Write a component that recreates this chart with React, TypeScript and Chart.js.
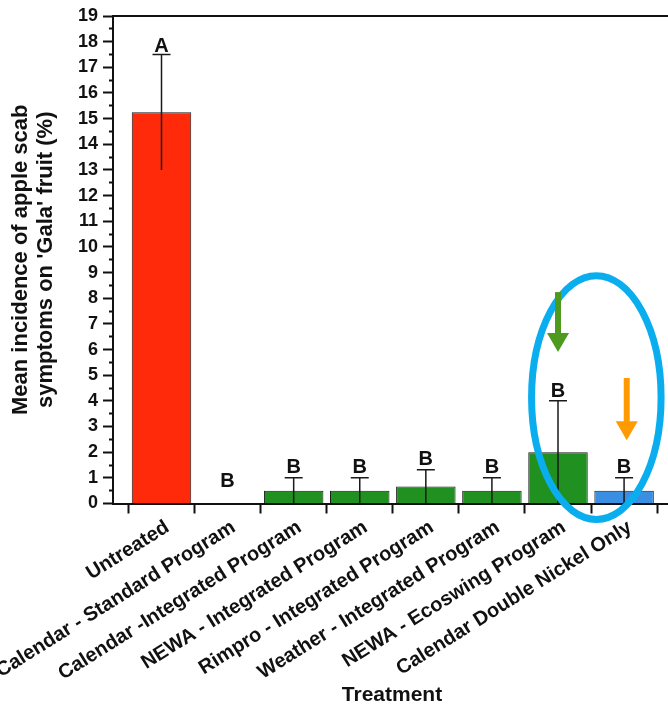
import React, { useEffect, useRef } from "react";
import { Chart, registerables } from "chart.js";

Chart.register(...registerables);

// ---------------- data ----------------
const categories = [
  "Untreated",
  "Calendar - Standard Program",
  "Calendar -Integrated Program",
  "NEWA - Integrated Program",
  "Rimpro - Integrated Program",
  "Weather - Integrated Program",
  "NEWA - Ecoswing Program",
  "Calendar Double Nickel Only",
];
const means = [15.25, 0, 0.5, 0.5, 0.66, 0.5, 2.0, 0.5];
const errors = [2.25, 0, 0.5, 0.5, 0.66, 0.5, 2.0, 0.5];
const letters = ["A", "B", "B", "B", "B", "B", "B", "B"];
const letterAt = [17.6, 0.66, 1.17, 1.17, 1.49, 1.17, 4.17, 1.17];
const barColors = [
  "#FF2A0A",
  "rgba(0,0,0,0)",
  "#209020",
  "#209020",
  "#209020",
  "#209020",
  "#209020",
  "#3B8FE3",
];
const yMajorTicks = [0, 1, 2, 3, 4, 5, 6, 7, 8, 9, 10, 11, 12, 13, 14, 15, 16, 17, 18, 19];
const yMinorTicks = [0.5, 1.5, 2.5, 3.5, 4.5, 5.5, 6.5, 7.5, 8.5, 9.5, 10.5, 11.5, 12.5, 13.5, 14.5, 15.5, 16.5, 17.5, 18.5];
const yTitle = ["Mean incidence of apple scab", "symptoms on 'Gala' fruit (%)"];
const xTitle = "Treatment";

// overlay annotations (in data units)
const ellipse = { x: 6.58, y: 4.13, rx: 0.98, ry: 4.75, color: "#0AAEEF" };
const arrows = [
  { x: 6.0, from: 8.24, to: 5.9, color: "#4E9A1E" },
  { x: 7.04, from: 4.89, to: 2.47, color: "#FF9A00" },
];

const X_MIN = -0.734;
const X_MAX = 7.71;
const FONT = "'Liberation Sans', Arial, Helvetica, sans-serif";
const INK = "#111111";

const overlayPlugin = {
  id: "overlay",
  afterDatasetsDraw(chart: any) {
    const ctx = chart.ctx;
    const xs = chart.scales.x;
    const ys = chart.scales.y;
    ctx.save();
    // error bars
    ctx.strokeStyle = "#1a1a1a";
    ctx.lineWidth = 1.5;
    means.forEach((m, i) => {
      const e = errors[i];
      if (!e) return;
      const x = xs.getPixelForValue(i);
      const yt = ys.getPixelForValue(m + e);
      const yb = ys.getPixelForValue(Math.max(0, m - e));
      ctx.beginPath();
      ctx.moveTo(x, yb);
      ctx.lineTo(x, yt);
      ctx.moveTo(x - 9, yt);
      ctx.lineTo(x + 9, yt);
      ctx.stroke();
    });
    // letters
    ctx.fillStyle = INK;
    ctx.font = `bold 20px ${FONT}`;
    ctx.textAlign = "center";
    ctx.textBaseline = "alphabetic";
    letters.forEach((l, i) => {
      ctx.fillText(l, xs.getPixelForValue(i), ys.getPixelForValue(letterAt[i]));
    });
    // ellipse
    const cx = xs.getPixelForValue(ellipse.x);
    const cy = ys.getPixelForValue(ellipse.y);
    const rx = Math.abs(xs.getPixelForValue(ellipse.x + ellipse.rx) - cx);
    const ry = Math.abs(ys.getPixelForValue(ellipse.y + ellipse.ry) - cy);
    ctx.strokeStyle = ellipse.color;
    ctx.lineWidth = 7;
    ctx.beginPath();
    ctx.ellipse(cx, cy, rx, ry, 0, 0, Math.PI * 2);
    ctx.stroke();
    // arrows
    arrows.forEach((a) => {
      const x = xs.getPixelForValue(a.x);
      const y0 = ys.getPixelForValue(a.from);
      const y1 = ys.getPixelForValue(a.to);
      const head = 19;
      ctx.strokeStyle = a.color;
      ctx.fillStyle = a.color;
      ctx.lineWidth = 6;
      ctx.beginPath();
      ctx.moveTo(x, y0);
      ctx.lineTo(x, y1 - head + 1);
      ctx.stroke();
      ctx.beginPath();
      ctx.moveTo(x - 11, y1 - head);
      ctx.lineTo(x + 11, y1 - head);
      ctx.lineTo(x, y1);
      ctx.closePath();
      ctx.fill();
    });
    ctx.restore();
  },
};

export default function App() {
  const ref = useRef<HTMLCanvasElement | null>(null);
  useEffect(() => {
    if (!ref.current) return;
    Chart.defaults.color = INK;
    const chart = new Chart(ref.current, {
      type: "bar",
      data: {
        datasets: [
          {
            data: means.map((v, i) => ({ x: i, y: v })),
            backgroundColor: barColors,
            borderColor: "#1a1a1a",
            borderWidth: 1,
            barPercentage: 0.9,
            categoryPercentage: 1,
          } as any,
        ],
      },
      options: {
        responsive: false,
        animation: false,
        layout: { padding: { top: 16, left: 0, right: 0, bottom: 0 } },
        plugins: { legend: { display: false }, tooltip: { enabled: false } },
        scales: {
          x: {
            type: "linear",
            position: "bottom",
            min: X_MIN,
            max: X_MAX,
            offset: false,
            afterBuildTicks: (s: any) => {
              s.ticks = categories.map((_, i) => ({ value: i }));
            },
            afterFit: (s: any) => {
              s.height = 204.5;
            },
            grid: {
              display: true,
              drawOnChartArea: false,
              offset: true,
              tickLength: 10,
              tickWidth: 2,
              tickColor: INK,
            },
            border: { display: true, color: INK, width: 2 },
            ticks: {
              autoSkip: false,
              maxRotation: 32,
              minRotation: 32,
              padding: 2,
              labelOffset: 6,
              color: INK,
              font: { family: FONT, size: 20, weight: "bold" },
              callback: (v: any) => categories[v] ?? "",
            },
            title: {
              display: true,
              text: xTitle,
              color: INK,
              font: { family: FONT, size: 21, weight: "bold" },
              padding: { top: 0, bottom: 0 },
            },
          },
          xTop: {
            type: "linear",
            position: "top",
            min: X_MIN,
            max: X_MAX,
            ticks: { display: false },
            grid: { display: false, drawTicks: false },
            border: { display: true, color: INK, width: 2 },
          },
          y: {
            type: "linear",
            min: 0,
            max: 19,
            afterBuildTicks: (s: any) => {
              s.ticks = [...yMajorTicks, ...yMinorTicks]
                .sort((a, b) => a - b)
                .map((v) => ({ value: v }));
            },
            afterFit: (s: any) => {
              s.width = 113;
            },
            grid: {
              display: true,
              drawOnChartArea: false,
              tickLength: 10,
              tickWidth: 2,
              tickColor: INK,
              tickBorderDash: (c: any) =>
                c.tick && !Number.isInteger(c.tick.value) ? [0, 6, 4, 0] : [],
            } as any,
            border: { display: true, color: INK, width: 2 },
            ticks: {
              autoSkip: false,
              padding: 5,
              color: INK,
              font: { family: FONT, size: 18, weight: "bold" },
              callback: (v: any) => (Number.isInteger(v) ? String(v) : ""),
            },
            title: {
              display: true,
              text: yTitle,
              color: INK,
              font: { family: FONT, size: 22, weight: "bold", lineHeight: 1.15 },
              padding: { top: 8, bottom: 0 },
            },
          },
        } as any,
      },
      plugins: [overlayPlugin],
    });
    return () => chart.destroy();
  }, []);

  return (
    <div
      style={{
        position: "absolute",
        left: 0,
        top: 0,
        width: 668,
        height: 708,
        overflow: "hidden",
        background: "#ffffff",
      }}
    >
      <canvas ref={ref} width={671} height={708} style={{ display: "block" }} />
    </div>
  );
}
